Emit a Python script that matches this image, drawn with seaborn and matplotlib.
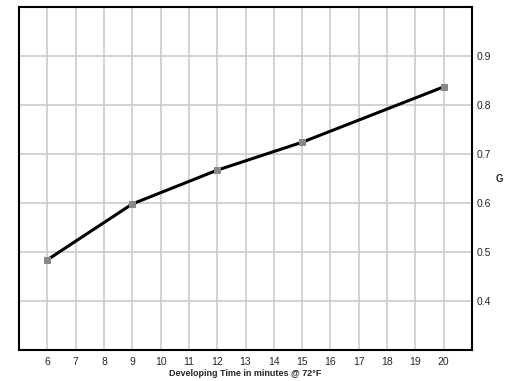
import seaborn as sb
import matplotlib.pyplot as plt
import pandas as pd

# developing time (min) vs contrast index G
minutes = [6, 9, 12, 15, 20]
g_values = [0.484, 0.598, 0.667, 0.724, 0.837]
x_ticks = list(range(6, 21))
y_ticks = [0.4, 0.5, 0.6, 0.7, 0.8, 0.9]

df = pd.DataFrame({"minutes": minutes, "G": g_values})

sb.set_style("white")
plt.rcParams["font.family"] = ["Liberation Sans", "DejaVu Sans"]

W, H = 522, 381
fig = plt.figure(figsize=(W / 100, H / 100), dpi=100)
ax = fig.add_axes([19 / W, (H - 350) / H, 453 / W, 343 / H])

sb.lineplot(data=df, x="minutes", y="G", ax=ax, color="black", linewidth=2.2,
            marker="s", markersize=5, markerfacecolor="#888888",
            markeredgecolor="#888888", zorder=3)

ax.set_xlim(5, 21)
ax.set_ylim(0.3, 1.0)
ax.set_xticks(x_ticks)
ax.set_yticks(y_ticks)
ax.set_xticklabels([str(t) for t in x_ticks])
ax.set_yticklabels([f"{t:.1f}" for t in y_ticks])
ax.yaxis.tick_right()
ax.tick_params(axis="both", length=0, labelsize=7.5)
ax.tick_params(axis="x", pad=5)
ax.tick_params(axis="y", pad=3)
ax.grid(True, color="#cccccc", linewidth=1.2)
ax.set_xlabel("")
ax.set_ylabel("")

for s in ax.spines.values():
    s.set_visible(True)
    s.set_color("black")
    s.set_linewidth(1.5)

fig.text(245 / W, 1 - 374 / H, "Developing Time in minutes @ 72\u00b0F",
         fontsize=6.5, fontweight="bold", ha="center", va="center")
fig.text(499 / W, 1 - 179 / H, "G", fontsize=7, fontweight="bold",
         ha="center", va="center")

fig.savefig("out.png", dpi=100)
